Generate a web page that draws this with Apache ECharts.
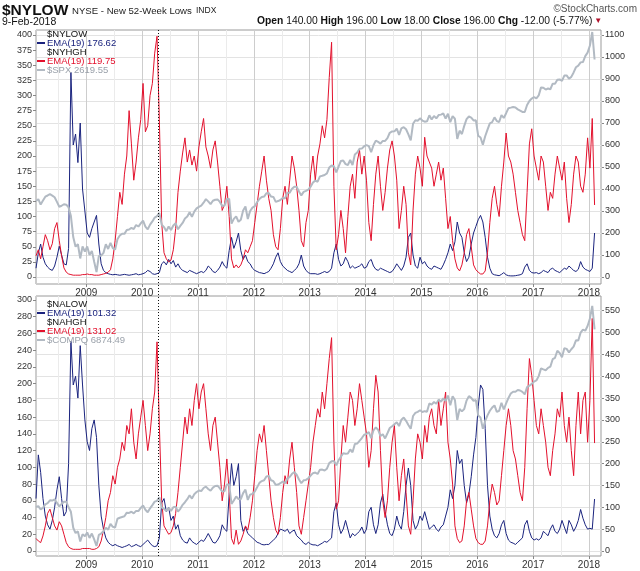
<!DOCTYPE html>
<html><head><meta charset="utf-8">
<script src="https://cdn.jsdelivr.net/npm/echarts@6/dist/echarts.min.js"></script>
<style>html,body{margin:0;padding:0;background:#fff}#c{width:640px;height:571px}</style>
</head><body><div id="c"></div>
<script>
// x range (decimal years) and semi-monthly sampling grid
const X_MIN = 2008.10, X_MAX = 2018.215;
const T0 = 2008.10, STEP = 1 / 24;

// ---- Top panel: $NYLOW (blue, right axis), $NYHGH (red, left axis), $SPX (gray)
const nylow = [
 40,110,150,90,60,45,35,30,50,90,140,100,60,55,130,930,600,650,520,700,400,300,200,180,
 220,250,280,150,60,30,20,15,12,10,12,10,8,10,12,10,8,10,12,15,10,12,15,20,
 30,25,15,12,15,20,60,70,55,80,60,75,45,60,40,30,25,20,30,25,20,15,20,25,
 20,30,50,40,25,20,30,45,70,50,40,120,180,130,160,200,120,80,100,70,60,40,30,25,
 20,18,15,20,25,40,60,90,110,70,50,40,30,25,20,30,40,60,100,50,30,20,15,15,
 15,12,15,20,25,20,25,40,110,150,80,50,60,90,70,40,50,40,45,50,60,40,45,70,
 80,50,35,30,40,35,30,25,20,25,40,60,45,30,50,90,180,200,100,50,40,90,60,70,
 50,40,35,50,45,40,35,55,80,110,150,120,160,250,200,180,110,70,90,150,200,230,260,280,
 250,180,90,40,15,10,8,6,12,20,10,6,5,5,6,8,10,15,45,60,30,20,18,20,
 15,20,30,25,20,35,40,30,25,20,30,40,35,50,40,30,25,35,70,45,35,30,25,40,
 200];
const nyhgh = [
 35,45,30,50,70,60,45,55,80,90,60,35,15,8,5,4,3,3,3,3,4,4,5,4,
 4,3,3,3,4,5,6,8,12,30,60,100,140,120,170,200,275,220,160,190,230,260,320,240,
 250,300,320,370,398,260,90,40,30,25,28,45,80,140,175,205,230,190,210,185,200,175,215,240,
 262,215,200,180,210,225,190,150,110,120,150,100,30,15,20,15,20,30,45,40,50,60,90,120,
 150,175,200,160,130,110,70,50,45,80,130,150,120,160,200,180,150,110,60,50,90,110,170,200,
 160,200,220,250,230,260,330,388,150,45,70,110,80,40,100,150,170,130,190,210,170,200,160,90,
 60,120,170,200,150,110,140,180,210,225,200,160,80,110,150,120,40,20,110,170,200,180,150,231,
 200,190,180,150,170,190,160,180,130,80,100,60,30,15,10,20,40,70,80,50,20,12,8,5,
 5,10,40,90,130,150,120,100,150,190,238,200,190,170,140,110,90,70,60,140,220,245,200,180,
 160,200,190,150,110,140,130,170,200,180,160,190,130,90,120,170,200,190,150,140,170,230,180,262,
 119];
const spx = [
 1326,1342,1293,1330,1365,1376,1388,1375,1360,1318,1273,1282,1296,1292,1267,1188,996,908,930,800,909,863,909,832,
 869,770,676,823,825,851,930,887,942,895,881,976,1010,1026,1025,1060,1065,1080,1069,1106,1092,1120,1145,1092,
 1066,1110,1139,1174,1187,1217,1110,1087,1050,1092,1060,1102,1121,1067,1098,1125,1165,1183,1223,1181,1228,1258,1272,1283,
 1310,1343,1322,1297,1328,1337,1340,1317,1279,1284,1344,1345,1119,1162,1185,1136,1155,1238,1275,1161,1234,1265,1278,1315,
 1344,1362,1366,1397,1398,1366,1363,1318,1325,1335,1354,1350,1402,1402,1437,1456,1455,1413,1377,1409,1418,1430,1457,1494,
 1512,1502,1551,1556,1563,1578,1632,1650,1643,1588,1640,1692,1697,1663,1655,1701,1655,1752,1770,1804,1805,1827,1837,1828,
 1773,1836,1878,1866,1851,1875,1875,1900,1950,1962,1963,1987,1931,1990,2001,1982,1935,1880,2032,2064,2060,2082,2062,2051,
 2055,2110,2071,2104,2082,2112,2116,2126,2080,2124,2046,2102,2078,1893,1969,1938,2013,2075,2099,2089,2063,2064,1922,1906,
 1840,1918,1979,2036,2047,2091,2057,2048,2112,2085,2129,2175,2180,2186,2181,2164,2153,2141,2140,2204,2241,2263,2277,2265,
 2292,2365,2362,2345,2355,2348,2399,2398,2434,2438,2425,2473,2475,2444,2461,2502,2549,2564,2594,2597,2651,2683,2748,2872,
 2620];

// ---- Bottom panel: $NALOW (blue, right axis), $NAHGH (red, left axis), $COMPQ (gray)
const nalow = [
 120,220,180,120,80,60,50,70,100,140,170,120,80,90,200,480,380,400,350,470,380,300,250,230,
 280,300,260,150,80,50,30,20,15,12,15,12,10,8,10,12,15,10,12,15,12,10,15,20,
 25,18,12,10,12,30,110,120,90,100,70,80,50,60,35,25,20,18,30,22,18,15,20,25,
 22,30,40,30,20,18,25,35,60,50,45,130,200,150,170,200,70,45,55,40,35,30,25,20,
 18,15,14,15,15,20,25,30,40,50,48,45,50,40,45,48,35,30,25,18,15,20,16,14,
 14,12,15,18,22,20,25,30,90,110,60,40,50,70,50,30,40,35,40,45,55,40,50,90,
 100,60,40,60,110,130,90,60,40,35,50,80,60,50,90,150,190,150,70,50,60,80,70,90,
 70,50,55,60,50,45,55,60,80,100,140,120,150,230,200,210,150,110,130,170,220,260,330,380,
 370,280,150,80,50,35,30,40,60,70,40,25,20,18,15,20,25,30,60,70,45,30,25,28,
 25,30,45,40,35,50,60,45,40,50,70,55,40,70,60,45,55,70,95,75,60,50,52,50,
 119];
const nahgh = [
 15,12,10,18,30,45,50,40,30,25,35,30,20,10,5,3,2,2,2,2,3,3,3,3,
 2,2,3,5,12,25,40,60,70,90,80,100,110,130,120,150,140,170,130,110,140,160,180,150,
 120,140,170,190,250,150,60,30,25,20,22,30,45,70,100,130,160,140,170,150,180,200,170,190,
 200,170,140,120,150,160,130,100,60,80,110,70,15,8,25,8,12,20,30,25,40,60,90,120,
 140,130,150,120,90,60,40,25,20,40,70,90,80,110,130,100,70,30,20,40,60,80,100,130,
 150,170,160,190,170,200,230,255,130,50,60,110,150,130,160,190,180,150,170,200,180,160,140,100,
 120,170,210,190,120,60,40,60,100,130,150,100,60,90,110,70,30,20,60,110,140,130,110,150,
 130,160,170,150,140,180,150,170,190,130,110,80,30,15,10,12,30,60,70,50,30,15,10,8,
 8,12,30,60,80,70,55,60,90,120,150,170,150,120,110,90,70,60,100,170,230,210,180,150,
 140,170,150,130,100,90,120,140,170,160,190,150,130,160,120,90,150,190,140,180,190,130,180,278,
 129];
const compq = [
 2278,2300,2212,2258,2346,2376,2451,2444,2475,2385,2294,2355,2414,2414,2269,2153,1740,1603,1647,1384,1571,1521,1617,1477,
 1591,1441,1268,1555,1590,1653,1739,1692,1842,1764,1747,1973,2000,2020,2037,2131,2123,2154,2112,2176,2172,2252,2317,2205,
 2141,2243,2326,2415,2436,2530,2265,2229,2170,2255,2175,2269,2288,2159,2229,2334,2401,2479,2580,2494,2609,2665,2703,2689,
 2769,2804,2745,2698,2780,2820,2828,2758,2675,2686,2859,2858,2357,2446,2549,2483,2479,2637,2727,2460,2596,2618,2675,2786,
 2901,2948,2970,3068,3080,2970,2946,2850,2858,2892,2937,2890,3011,3053,3136,3180,3112,2990,2895,2967,2978,3021,3092,3153,
 3168,3131,3244,3245,3222,3269,3413,3459,3469,3357,3485,3579,3669,3658,3660,3765,3694,3907,3919,3991,4062,4148,4165,4218,
 4057,4263,4336,4276,4113,4161,4051,4185,4321,4368,4419,4473,4371,4538,4592,4508,4400,4300,4632,4712,4740,4781,4736,4757,
 4744,4955,4927,4994,4950,5056,5003,5089,5021,5160,4910,5146,5044,4526,4812,4752,4811,5031,5147,5102,5022,5045,4643,4591,
 4300,4504,4649,4768,4850,4906,4737,4766,4974,4800,4956,5100,5213,5260,5259,5306,5292,5257,5193,5380,5417,5463,5521,5552,
 5664,5865,5838,5817,5878,5910,6102,6138,6321,6265,6153,6387,6370,6278,6360,6426,6590,6586,6789,6867,6840,6960,7157,7480,
 6874];

const MARK_DATE = 2010.29;

const T = nylow.map((_, i) => +(T0 + i * STEP).toFixed(4));
const pairs = vals => vals.map((v, i) => [T[i], v]);

const FONT = '"Liberation Sans", Arial, sans-serif';
const BLUE = '#1a237e', RED = '#e3102c', GRAY = '#b2bac3';
const lbl = { color: '#333', fontSize: 9, fontFamily: FONT };

function xYear(gi) {
  return { type: 'value', gridIndex: gi, min: X_MIN, max: X_MAX, splitNumber: 10, z: 1,
    axisLine: { show: false }, axisTick: { show: true, length: 3, lineStyle: { color: '#888' } },
    axisLabel: Object.assign({}, lbl, { fontSize: 10, margin: 4, showMinLabel: false, showMaxLabel: false,
      formatter: v => String(Math.round(v)) }),
    splitLine: { show: true, lineStyle: { color: '#cdcdcd', width: 1 } } };
}
function xHalf(gi) {
  return { type: 'value', gridIndex: gi, position: 'top', min: X_MIN, max: X_MAX, splitNumber: 20, z: 0,
    axisLine: { show: false }, axisTick: { show: false }, axisLabel: { show: false },
    splitLine: { show: true, lineStyle: { color: '#ebebeb', width: 1 } } };
}
const xHidden = gi => ({ type: 'value', gridIndex: gi, min: X_MIN, max: X_MAX, show: false });
const yHidden = (gi, mn, mx) => ({ type: 'value', gridIndex: gi, min: mn, max: mx, show: false, splitLine: { show: false } });
function yVis(gi, pos, mx, iv, split) {
  return { type: 'value', gridIndex: gi, position: pos, min: 0, max: mx, interval: iv,
    axisLine: { show: false }, axisTick: { show: true, length: 3, lineStyle: { color: '#888' } },
    axisLabel: Object.assign({}, lbl, { margin: 4, showMaxLabel: mx % iv === 0, formatter: v => String(v) }),
    splitLine: { show: split, showMaxLine: mx % iv === 0, lineStyle: { color: '#e3e3e3', width: 1 } } };
}
const line = (xi, yi, data, color, w, z) => ({ type: 'line', xAxisIndex: xi, yAxisIndex: yi, data: pairs(data),
  showSymbol: false, symbol: 'none', clip: false, z: z, lineStyle: { color: color, width: w }, itemStyle: { color: color } });

function txt(x, y, text, fill, size, weight, align) {
  return { type: 'text', z: 100, style: { x: x, y: y, text: text, fill: fill,
    font: (weight || 'normal') + ' ' + size + 'px ' + FONT, textAlign: align || 'left', align: align || 'left',
    textVerticalAlign: 'middle', verticalAlign: 'middle' } };
}
function dash(y, color) {
  return { type: 'line', z: 100, shape: { x1: 37, y1: y, x2: 45, y2: y }, style: { stroke: color, lineWidth: 2 } };
}
const headerRich = { type: 'text', z: 100, style: {
  x: 257, y: 21, textVerticalAlign: 'middle', verticalAlign: 'middle',
  text: '{b|Open} 140.00 {b|High} 196.00 {b|Low} 18.00 {b|Close} 196.00 {b|Chg} -12.00 (-5.77%){r|▼}',
  font: '10.3px ' + FONT, fill: '#111',
  rich: { b: { font: 'bold 10.3px ' + FONT, fill: '#111' }, r: { font: '8px ' + FONT, fill: '#b0102a', padding: [0, 0, 0, 2] } } } };

const graphics = [
  txt(2, 11, '$NYLOW', '#111', 15.5, 'bold'),
  txt(72, 11, 'NYSE - New 52-Week Lows', '#222', 9.6),
  txt(196, 11, 'INDX', '#222', 8.5),
  txt(637, 9, '©StockCharts.com', '#555', 10, 'normal', 'right'),
  txt(2, 22, '9-Feb-2018', '#111', 10.5),
  headerRich,
  txt(47, 34, '$NYLOW', '#111', 9.5),
  dash(43, BLUE), txt(47, 43, 'EMA(19) 176.62', BLUE, 9.5),
  txt(47, 52, '$NYHGH', '#111', 9.5),
  dash(61, RED), txt(47, 61, 'EMA(19) 119.75', RED, 9.5),
  dash(70, GRAY), txt(47, 70, '$SPX 2619.55', '#9aa1aa', 9.5),
  txt(47, 304, '$NALOW', '#111', 9.5),
  dash(313, BLUE), txt(47, 313, 'EMA(19) 101.32', BLUE, 9.5),
  txt(47, 322, '$NAHGH', '#111', 9.5),
  dash(331, RED), txt(47, 331, 'EMA(19) 131.02', RED, 9.5),
  dash(340, GRAY), txt(47, 340, '$COMPQ 6874.49', '#9aa1aa', 9.5)
];

const chart = echarts.init(document.getElementById('c'), null, { renderer: 'canvas' });
const option = {
  animation: false, backgroundColor: '#fff',
  grid: [
    { left: 36, right: 39, top: 30, height: 254, show: true, borderColor: '#9a9a9a', borderWidth: 1, backgroundColor: '#fff' },
    { left: 36, right: 39, top: 35, height: 242 },
    { left: 36, right: 39, top: 296, height: 260, show: true, borderColor: '#9a9a9a', borderWidth: 1, backgroundColor: '#fff' },
    { left: 36, right: 39, top: 300, height: 251 }
  ],
  xAxis: [xYear(0), xHalf(0), xHidden(1), xYear(2), xHalf(2), xHidden(3)],
  yAxis: [
    yHidden(0, 0, 1),
    yVis(1, 'right', 1100, 100, true),
    yVis(1, 'left', 400, 25, false),
    yHidden(1, 630.3, 2844.4),
    yHidden(2, 0, 1),
    yVis(3, 'right', 574.5, 50, true),
    yVis(3, 'left', 300, 20, false),
    yHidden(3, 1138.6, 7634)
  ],
  series: [
    line(2, 1, nylow, BLUE, 1, 3),
    line(2, 2, nyhgh, RED, 1, 4),
    line(2, 3, spx, GRAY, 2, 5),
    line(5, 5, nalow, BLUE, 1, 3),
    line(5, 6, nahgh, RED, 1, 4),
    line(5, 7, compq, GRAY, 2, 5)
  ],
  graphic: graphics
};
chart.setOption(option);
const mx = chart.convertToPixel({ xAxisIndex: 0 }, MARK_DATE);
chart.setOption({ graphic: graphics.concat([{ type: 'line', z: 90,
  shape: { x1: Math.round(mx) + 0.5, y1: 30, x2: Math.round(mx) + 0.5, y2: 556 },
  style: { stroke: '#111', lineWidth: 1, lineDash: [1, 2] } }]) });
</script></body></html>
